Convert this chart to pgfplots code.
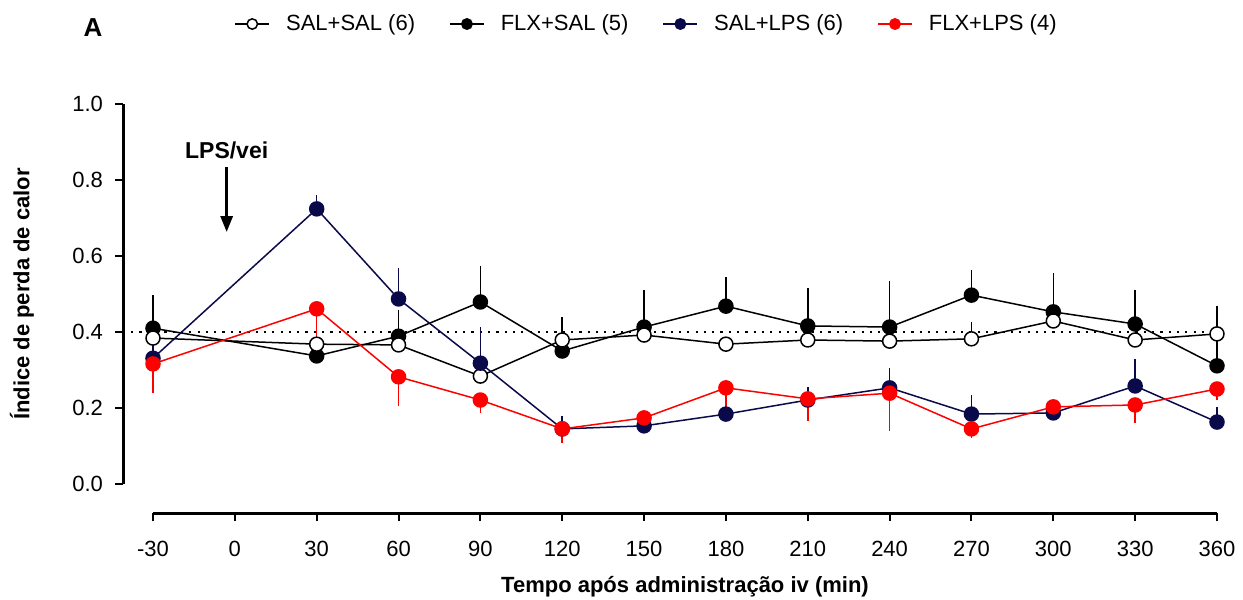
\documentclass[border=0pt]{standalone}
\usepackage{pgfplots}
\pgfplotsset{compat=1.18}
\usepackage{fontspec}
\setmainfont{Liberation Sans}
\usetikzlibrary{arrows.meta}
\definecolor{navy}{RGB}{10,10,75}
\definecolor{lpsred}{RGB}{255,0,0}
\begin{document}
\begin{tikzpicture}
\useasboundingbox (0,0) rectangle (621.5pt,300pt);
\begin{axis}[
    at={(76.5pt,58pt)}, anchor=south west,
    scale only axis, width=532pt, height=190pt,
    xmin=-30, xmax=360, ymin=0, ymax=1.0,
    axis lines=left,
    axis line style={-, line width=1.5pt},
    axis x line shift=14.5pt, axis y line shift=15pt,
    xtick={-30,0,...,360}, ytick={0,0.2,...,1.0},
    tick align=outside, major tick length=4pt,
    every tick/.style={black, line width=1pt},
    /pgf/number format/assume math mode=true,
    yticklabel style={xshift=-2.5pt, /pgf/number format/.cd, fixed, fixed zerofill, precision=1},
    xticklabel style={yshift=-6.5pt},
    tick label style={font=\fontsize{11}{13}\selectfont},
    clip=false,
    xlabel={\textbf{Tempo após administração iv (min)}},
    ylabel={\textbf{Índice de perda de calor}},
    every axis x label/.style={at={(axis description cs:0.5,-0.271)}, anchor=center, font=\fontsize{11}{13}\selectfont},
    every axis y label/.style={at={(axis description cs:-0.1231,0.5)}, rotate=90, anchor=center, font=\fontsize{11}{13}\selectfont},
    legend columns=4,
    legend cell align=left,
    legend style={at={(axis description cs:0.4648,1.2105)}, anchor=center, draw=none, fill=none,
      font=\fontsize{11}{13}\selectfont,
      /tikz/every odd column/.append style={column sep=6pt},
      /tikz/every even column/.append style={column sep=15pt}},
    error bars/error bar style={line width=0.75pt},
    error bars/error mark=none,
  ]
  % legend entries in the reference order
  \addlegendimage{black, line width=0.75pt, mark=*, mark size=2.6pt, mark options={fill=white}}
  \addlegendentry{SAL+SAL (6)}
  \addlegendimage{black, line width=0.75pt, mark=*, mark size=2.6pt}
  \addlegendentry{FLX+SAL (5)}
  \addlegendimage{navy, line width=0.75pt, mark=*, mark size=2.6pt}
  \addlegendentry{SAL+LPS (6)}
  \addlegendimage{lpsred, line width=0.75pt, mark=*, mark size=2.6pt}
  \addlegendentry{FLX+LPS (4)}

  % reference line at 0.4
  \addplot[forget plot, black, line width=1.3pt, dash pattern=on 1.1pt off 3.05pt] coordinates {(-38,0.4) (360,0.4)};

  % FLX+SAL
  \addplot[forget plot, black, line width=0.75pt, mark=*, mark size=3.5pt,
    error bars/.cd, y dir=both, y explicit] coordinates {
    (-30,0.410) += (0,0.087)
    (30,0.337)
    (60,0.389) += (0,0.070)
    (90,0.479) += (0,0.095)
    (120,0.350) += (0,0.020)
    (150,0.413) += (0,0.098)
    (180,0.468) += (0,0.077)
    (210,0.416) += (0,0.100)
    (240,0.413) += (0,0.121)
    (270,0.497) += (0,0.066)
    (300,0.453) += (0,0.102)
    (330,0.421) += (0,0.090)
    (360,0.311) += (0,0.157)
  };
  % SAL+SAL
  \addplot[forget plot, black, line width=0.75pt, mark=*, mark size=3.5pt, mark options={fill=white},
    error bars/.cd, y dir=both, y explicit] coordinates {
    (-30,0.384)
    (30,0.368)
    (60,0.366)
    (90,0.284)
    (120,0.379) += (0,0.060)
    (150,0.392)
    (180,0.368)
    (210,0.379)
    (240,0.376)
    (270,0.382) += (0,0.044)
    (300,0.429)
    (330,0.379)
    (360,0.395)
  };
  % SAL+LPS
  \addplot[forget plot, navy, line width=0.75pt, mark=*, mark size=3.5pt,
    error bars/.cd, y dir=both, y explicit] coordinates {
    (-30,0.331) += (0,0.050)
    (30,0.724) += (0,0.036)
    (60,0.487) += (0,0.081)
    (90,0.318) += (0,0.095)
    (120,0.145) += (0,0.034)
    (150,0.153) -= (0,0.015)
    (180,0.184)
    (210,0.221) += (0,0.034)
    (240,0.253) += (0,0.052)
    (270,0.184) += (0,0.050)
    (300,0.187)
    (330,0.258) += (0,0.071)
    (360,0.163) += (0,0.040)
  };
  % FLX+LPS
  \addplot[forget plot, lpsred, line width=0.75pt, mark=*, mark size=3.5pt,
    error bars/.cd, y dir=both, y explicit] coordinates {
    (-30,0.316) -= (0,0.077)
    (30,0.461) -= (0,0.095)
    (60,0.282) -= (0,0.077)
    (90,0.221) -= (0,0.034)
    (120,0.145) -= (0,0.037)
    (150,0.174)
    (180,0.253) -= (0,0.060)
    (210,0.224) -= (0,0.058)
    (240,0.239) -= (0,0.100)
    (270,0.145) -= (0,0.024)
    (300,0.203)
    (330,0.208) -= (0,0.048)
    (360,0.250) -= (0,0.030)
  };

  \node[font=\bfseries\fontsize{11.5}{13}\selectfont] at (axis cs:-3,0.879) {LPS/vei};
  \draw[line width=1.5pt, -{Triangle[length=8pt,width=6pt]}] (axis cs:-3,0.834) -- (axis cs:-3,0.663);
  \node[font=\bfseries\fontsize{13}{15}\selectfont] at (axis description cs:-0.0564,1.2) {A};
\end{axis}
\end{tikzpicture}
\end{document}
